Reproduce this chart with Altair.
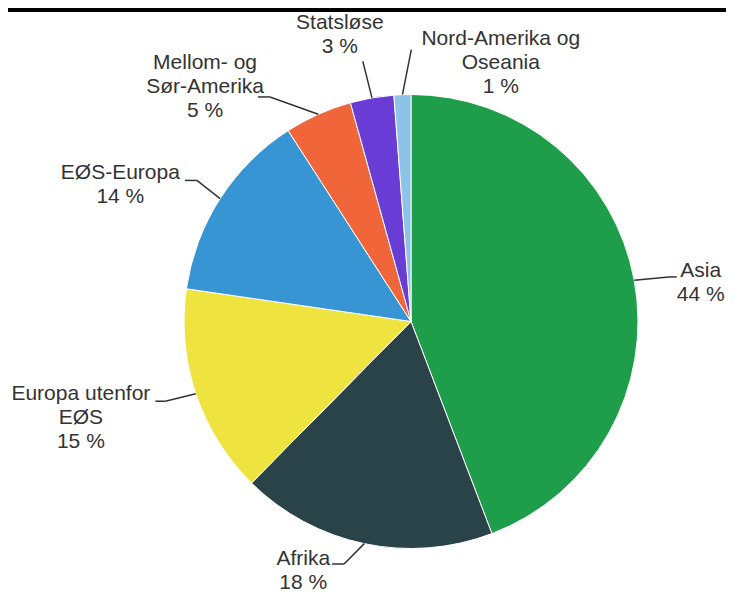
import altair as alt
import pandas as pd

# ---- data ----
categories = ["Asia", "Afrika", "Europa utenfor EØS", "EØS-Europa",
              "Mellom- og Sør-Amerika", "Statsløse", "Nord-Amerika og Oseania"]
label_text = ["Asia", "Afrika", "Europa utenfor\nEØS", "EØS-Europa",
              "Mellom- og\nSør-Amerika", "Statsløse", "Nord-Amerika og\nOseania"]
shares = [44.2, 18.2, 14.9, 13.6, 4.8, 3.1, 1.2]
colors = ["#1e9e4a", "#294349", "#efe33f", "#3795d3", "#f0663a", "#6a3cd6", "#8ec3e8"]

# ---- layout (svg pixel space) ----
W, H = 718, 587
CX, CY = 403, 313.5
R = 227
D = 257
FONT = "Liberation Sans"
FS = 21
# per label: elbow nudge dx, dy, hook length, side, gap (or dx for side 0), text dy
LAYOUT = [
    (5, 2, 8, 1, 0, 0),
    (-14, -9, -12, -1, 2, 1),
    (-2, -2, -10, -1, 5, -1),
    (2, -2, -12, -1, 5, -1),
    (-36, 10, -12, -1, -6, -27.5),
    (-4, -7, 0, 0, -23, -32.5),
    (10, -15, 0, 0, 89.5, -5),
]

ARIAL = {" ": 278, "%": 889, "-": 333, "A": 667, "E": 667, "M": 833, "N": 722,
         "O": 778, "S": 667, "Ø": 778, "a": 556, "d": 556, "e": 556, "f": 278,
         "g": 556, "i": 222, "k": 500, "l": 222, "m": 833, "n": 556, "o": 556,
         "p": 556, "r": 333, "s": 500, "t": 278, "u": 556, "ø": 611}


def text_width(s):
    return sum(ARIAL.get(c, 556) for c in s) * FS / 1000


rows = []
for i, (cat, lab, sh, lay) in enumerate(zip(categories, label_text, shares, LAYOUT)):
    ndx, ndy, hook, side, g, tdy = lay
    lines = lab.split("\n") + [f"{round(sh)} %"]
    half = max(text_width(l) for l in lines) / 2
    tdx = side * (g + half) if side != 0 else g
    rows.append(dict(order=i, category=cat, label=lab, share=sh,
                     ndx=ndx, ndy=ndy, hook=hook, tdx=tdx, tdy=tdy))
df = pd.DataFrame(rows)

base = alt.Chart(df).transform_window(
    cum="sum(share)", sort=[alt.SortField("order")], frame=[None, 0]
).transform_joinaggregate(total="sum(share)").transform_calculate(
    mid="2*PI*(datum.cum - datum.share/2)/datum.total",
).transform_calculate(
    ex=f"{CX} + {R}*sin(datum.mid)",
    ey=f"{CY} - {R}*cos(datum.mid)",
    bx=f"{CX} + {D}*sin(datum.mid) + datum.ndx",
    by=f"{CY} - {D}*cos(datum.mid) + datum.ndy",
).transform_calculate(
    hx="datum.bx + datum.hook",
    txt="datum.label + '\\n' + format(datum.share, '.0f') + ' %'",
).transform_calculate(
    tx="datum.hx + datum.tdx",
    ty="datum.by + datum.tdy",
)

pie = alt.Chart(df).mark_arc(outerRadius=R, stroke="white", strokeWidth=1).encode(
    theta=alt.Theta("share:Q", stack=True),
    color=alt.Color("category:N", scale=alt.Scale(domain=categories, range=colors), legend=None),
    order=alt.Order("order:Q"),
    x=alt.value(CX),
    y=alt.value(CY),
)

seg1 = base.mark_rule(color="#333333", strokeWidth=1.5).encode(
    x=alt.X("ex:Q", scale=None), y=alt.Y("ey:Q", scale=None),
    x2="bx:Q", y2="by:Q",
)
seg2 = base.mark_rule(color="#333333", strokeWidth=1.5).encode(
    x=alt.X("bx:Q", scale=None), y=alt.Y("by:Q", scale=None),
    x2="hx:Q", y2="by:Q",
)
labels = base.mark_text(font=FONT, fontSize=FS, color="#333333", align="center",
                        baseline="alphabetic", lineBreak="\n", lineHeight=24).encode(
    x=alt.X("tx:Q", scale=None), y=alt.Y("ty:Q", scale=None), text="txt:N",
)

topbar = alt.Chart(pd.DataFrame({"k": [0]})).mark_rule(color="#000000", strokeWidth=4).encode(
    x=alt.value(0), x2=alt.value(W), y=alt.value(2),
)

chart = alt.layer(pie, seg1, seg2, labels, topbar).properties(
    width=W, height=H, padding=0,
    autosize=alt.AutoSizeParams(type="none"),
).configure_view(stroke=None)

chart.save("out.html", embed_options={"renderer": "svg", "actions": False})
